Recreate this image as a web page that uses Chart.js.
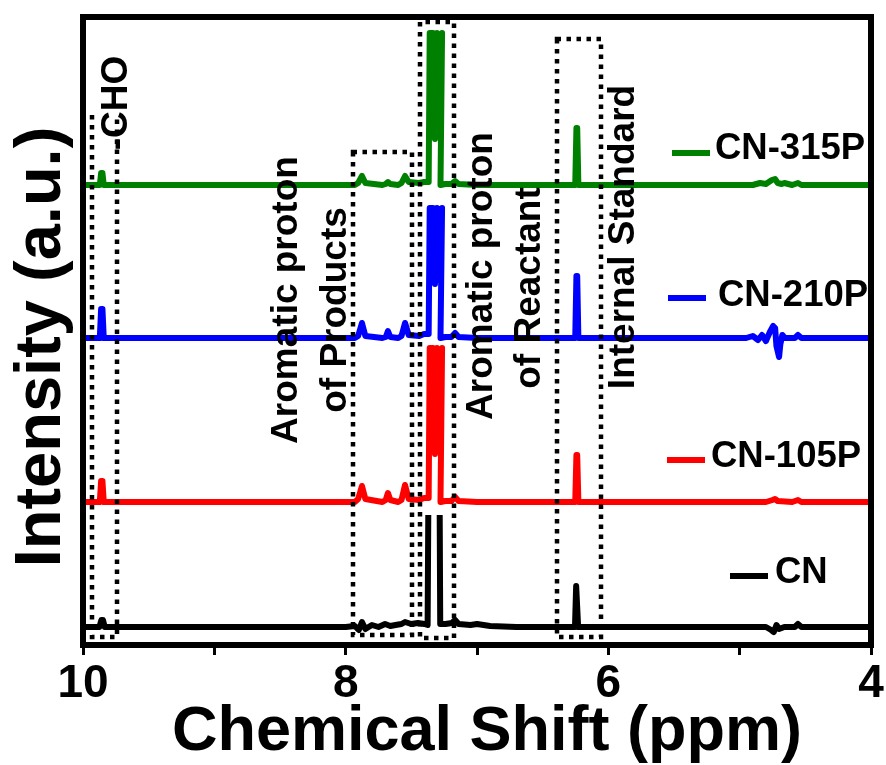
<!DOCTYPE html>
<html>
<head>
<meta charset="utf-8">
<title>1H NMR spectra</title>
<script src="https://cdn.jsdelivr.net/npm/chart.js@4.4.1/dist/chart.umd.min.js"></script>
<style>
  html, body { margin: 0; padding: 0; background: #fff; }
  canvas { display: block; }
</style>
</head>
<body>
<canvas id="nmrChart" width="886" height="765"></canvas>
<script>
'use strict';

// samples, bottom to top
let sampleNames = ['CN', 'CN-105P', 'CN-210P', 'CN-315P'];
let sampleColors = ['#000000', '#ff0000', '#0000ff', '#008000'];
// stacking offset of each trace
let sampleOffsets = [18, 143, 307, 460];

// chemical shift (ppm) / intensity (a.u., above own baseline)
let shiftCN = [10.00, 9.875, 9.860, 9.848, 9.835, 8.00, 7.93, 7.90, 7.876, 7.85, 7.80, 7.75, 7.70, 7.66, 7.62, 7.575, 7.548, 7.50, 7.45, 7.40, 7.376, 7.371, 7.33, 7.284, 7.280, 7.24, 7.19, 7.167, 7.14, 7.05, 7.00, 6.90, 6.70, 6.30, 6.254, 6.245, 6.239, 6.230, 6.18, 4.80, 4.76, 4.74, 4.72, 4.70, 4.66, 4.58, 4.556, 4.53, 4.00];
let signalCN = [0, 0, 7, 7, 0, 0, 1, -3, 5, -2, 2, 0, 3, 1, 2, 3, 5, 3, 4, 3, 2, 112, null, 112, 3, 3, 4, 7, 3, 2, 3, 1, 0, 0, 0, 41, 41, 0, 0, 0, -3, -5, 2, -2, 0, 0, 3, 0, 0];

let shift105P = [10.00, 9.872, 9.862, 9.852, 9.842, 7.93, 7.905, 7.876, 7.85, 7.72, 7.695, 7.678, 7.66, 7.60, 7.575, 7.548, 7.52, 7.44, 7.403, 7.368, 7.360, 7.335, 7.320, 7.305, 7.282, 7.266, 7.278, 7.24, 7.195, 7.167, 7.14, 7.00, 6.30, 6.252, 6.243, 6.237, 6.228, 6.18, 4.80, 4.75, 4.731, 4.71, 4.60, 4.556, 4.53, 4.00];
let signal105P = [0, 0, 21, 21, 0, 0, 3, 16, 3, 0, 2, 9, 2, 0, 2, 17, 3, 2, 4, 4, 154, 154, 48, 154, 82, 154, 0, 1, 1, 5, 1, 0, 0, 0, 47, 47, 0, 0, 0, 2, 3, 1, 0, 2, 0, 0];

let shift210P = [10.00, 9.872, 9.862, 9.852, 9.842, 7.93, 7.905, 7.876, 7.85, 7.72, 7.695, 7.678, 7.66, 7.60, 7.575, 7.548, 7.52, 7.44, 7.403, 7.368, 7.360, 7.335, 7.320, 7.305, 7.282, 7.266, 7.278, 7.24, 7.195, 7.167, 7.14, 7.00, 6.30, 6.252, 6.243, 6.237, 6.228, 6.18, 4.95, 4.90, 4.86, 4.83, 4.80, 4.77, 4.745, 4.73, 4.72, 4.70, 4.69, 4.675, 4.655, 4.58, 4.556, 4.53, 4.00];
let signal210P = [0, 0, 29, 29, 0, 0, 2, 15, 2, 0, 1, 7, 1, 0, 2, 15, 3, 2, 4, 4, 130, 130, 54, 130, 58, 130, 0, 1, 1, 5, 1, 0, 0, 0, 62, 62, 0, 0, 0, 2, -2, 3, -3, 6, 12, 10, -8, -19, -6, 3, 0, 0, 3, 0, 0];

let shift315P = [10.00, 9.872, 9.862, 9.852, 9.842, 7.93, 7.905, 7.876, 7.85, 7.72, 7.695, 7.678, 7.66, 7.60, 7.575, 7.548, 7.52, 7.44, 7.403, 7.368, 7.360, 7.335, 7.320, 7.305, 7.282, 7.266, 7.278, 7.24, 7.195, 7.167, 7.14, 7.00, 6.30, 6.252, 6.243, 6.237, 6.228, 6.18, 4.90, 4.845, 4.80, 4.755, 4.731, 4.71, 4.68, 4.66, 4.60, 4.556, 4.53, 4.00];
let signal315P = [0, 0, 12, 12, 0, 0, 2, 9, 2, 0, 1, 3, 1, 0, 2, 9, 3, 2, 3, 3, 152, 152, 46, 152, 72, 152, 0, 1, 1, 4, 1, 0, 0, 0, 57, 57, 0, 0, 0, 2, 1, 5, 6, 2, 1, 2, 0, 2, 0, 0];

let shifts = [shiftCN, shift105P, shift210P, shift315P];
let signals = [signalCN, signal105P, signal210P, signal315P];

let majorTicks = [10, 8, 6, 4];

// dotted boxes: ppm range and intensity range
let regionBoxes = [
  { from: 9.931, to: 9.741, top: 530, bottom: 8, closed: false },
  { from: 7.944, to: 7.495, top: 493, bottom: 10, closed: true },
  { from: 7.434, to: 7.175, top: 623, bottom: 7, closed: true },
  { from: 6.391, to: 6.056, top: 606, bottom: 8, closed: true }
];

// rotated notes (x = baseline, y = centre, canvas px)
let regionLabels = [
  { text: '-CHO', x: 127, y: 103 },
  { text: 'Aromatic proton', x: 297, y: 300 },
  { text: 'of Products', x: 346, y: 310 },
  { text: 'Aromatic proton', x: 492, y: 276 },
  { text: 'of Reactant', x: 540, y: 288 },
  { text: 'Internal Standard', x: 634, y: 237 }
];

// legend swatch placed next to each trace
let legendSpots = [
  { x: 730, y: 576, tx: 775, ty: 583 },
  { x: 667, y: 460, tx: 711, ty: 467 },
  { x: 668, y: 298, tx: 718, ty: 306 },
  { x: 672, y: 153, tx: 715, ty: 159 }
];

let fontFamily = "'Liberation Sans', Arial, Helvetica, sans-serif";

let toPoints = (xs, ys, offset) => xs.map((x, i) => ({
  x,
  y: ys[i] === null ? null : ys[i] + offset
}));

let datasets = sampleNames.map((name, i) => ({
  label: name,
  data: toPoints(shifts[i], signals[i], sampleOffsets[i]),
  borderColor: sampleColors[i],
  backgroundColor: sampleColors[i],
  borderWidth: 6,
  borderJoinStyle: 'round',
  pointRadius: 0,
  tension: 0,
  spanGaps: false,
  fill: false
}));

let decorations = {
  id: 'decorations',
  afterDatasetsDraw(chart) {
    let ctx = chart.ctx;
    let xScale = chart.scales.x;
    let yScale = chart.scales.y;
    let area = chart.chartArea;
    ctx.save();

    // dotted region boxes
    ctx.strokeStyle = '#000';
    ctx.lineWidth = 4.5;
    ctx.setLineDash([4.5, 5.5]);
    regionBoxes.forEach(b => {
      let l = Math.round(xScale.getPixelForValue(b.from));
      let r = Math.round(xScale.getPixelForValue(b.to));
      let t = Math.round(yScale.getPixelForValue(b.top));
      let bt = Math.round(yScale.getPixelForValue(b.bottom));
      ctx.beginPath();
      ctx.moveTo(l, t);
      ctx.lineTo(l, bt);
      ctx.lineTo(r, bt);
      ctx.lineTo(r, t);
      if (b.closed) ctx.closePath();
      ctx.stroke();
    });
    ctx.setLineDash([]);

    // rotated region notes
    ctx.fillStyle = '#000';
    ctx.font = 'bold 37px ' + fontFamily;
    ctx.textAlign = 'center';
    ctx.textBaseline = 'alphabetic';
    regionLabels.forEach(lb => {
      ctx.save();
      ctx.translate(lb.x, lb.y);
      ctx.rotate(-Math.PI / 2);
      ctx.fillText(lb.text, 0, 0);
      ctx.restore();
    });

    // legend entries beside the traces
    ctx.textAlign = 'left';
    ctx.font = 'bold 36.5px ' + fontFamily;
    chart.data.datasets.forEach((ds, i) => {
      let spot = legendSpots[i];
      ctx.strokeStyle = ds.borderColor;
      ctx.lineWidth = 6;
      ctx.beginPath();
      ctx.moveTo(spot.x, spot.y);
      ctx.lineTo(spot.x + 38, spot.y);
      ctx.stroke();
      ctx.fillStyle = '#000';
      ctx.fillText(ds.label, spot.tx, spot.ty);
    });

    // frame
    ctx.strokeStyle = '#000';
    ctx.lineWidth = 6;
    ctx.strokeRect(area.left, area.top, area.right - area.left, area.bottom - area.top);

    // axis titles
    ctx.fillStyle = '#000';
    ctx.textAlign = 'center';
    ctx.font = 'bold 63px ' + fontFamily;
    ctx.fillText('Chemical Shift (ppm)', 487, 750);

    ctx.save();
    ctx.translate(60, 347);
    ctx.rotate(-Math.PI / 2);
    ctx.font = 'bold 65px ' + fontFamily;
    ctx.fillText('Intensity (a.u.)', 0, 0);
    ctx.restore();

    ctx.restore();
  }
};

new Chart(document.getElementById('nmrChart'), {
  type: 'line',
  data: { datasets },
  options: {
    responsive: false,
    animation: false,
    devicePixelRatio: 1,
    layout: { padding: { left: 83, right: 15, top: 17, bottom: 52 } },
    plugins: {
      legend: { display: false },
      tooltip: { enabled: false }
    },
    scales: {
      x: {
        type: 'linear',
        reverse: true,
        min: 4,
        max: 10,
        border: { display: false },
        grid: {
          drawOnChartArea: false,
          drawTicks: true,
          tickLength: 10,
          tickWidth: 3,
          tickColor: '#000'
        },
        ticks: {
          stepSize: 1,
          autoSkip: false,
          maxRotation: 0,
          padding: 6,
          color: '#000',
          font: { family: fontFamily, weight: 'bold', size: 46, lineHeight: 1 },
          callback: v => majorTicks.includes(v) ? String(v) : ''
        },
        // keep the plot frame where the layout padding puts it
        afterFit: scale => {
          scale.paddingLeft = 0;
          scale.paddingRight = 0;
        }
      },
      y: {
        display: false,
        min: 0,
        max: 628
      }
    }
  },
  plugins: [decorations]
});
</script>
</body>
</html>
